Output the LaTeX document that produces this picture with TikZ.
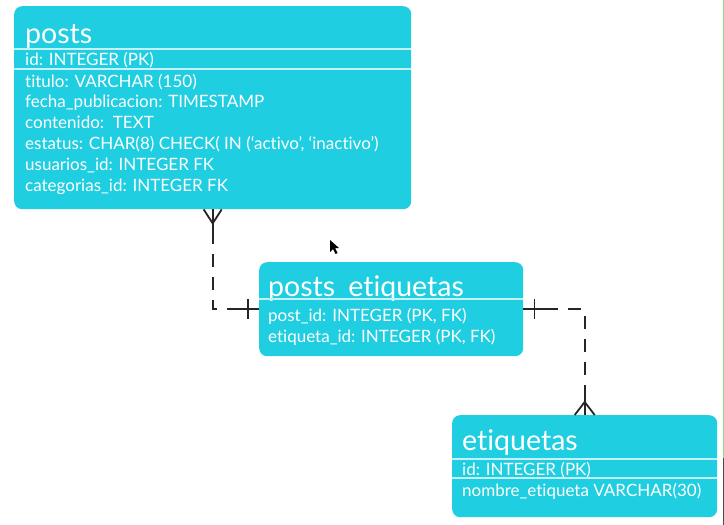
\documentclass[tikz,border=0pt]{standalone}
\usepackage{fontspec}
\setmainfont[Ligatures=NoCommon]{Lato}
\usetikzlibrary{calc}
\definecolor{tblfill}{RGB}{31,206,224}
\definecolor{sepcol}{RGB}{196,242,247}
\definecolor{edgegreen}{RGB}{140,226,120}

\tikzset{
  tablebox/.style={draw=none, fill=tblfill, rounded corners=8pt, inner sep=0pt, anchor=north west},
  ttitle/.style={anchor=base west, inner sep=0pt, text=white, font=\fontsize{28.5}{28.5}\selectfont},
  trow/.style={anchor=base west, inner sep=0pt, text=white, font=\fontsize{17}{17}\selectfont},
  sepline/.style={draw=sepcol, line width=1.3pt},
  relline/.style={draw=black!85, line width=1.8pt, dash pattern=on 13pt off 10pt},
  relmark/.style={draw=black!85, line width=1.8pt},
}

\begin{document}
\begin{tikzpicture}[x=1pt, y=-1pt]
  \useasboundingbox[fill=white] (0,0) rectangle (724,525);

  % ---- posts ----
  \node[tablebox, minimum width=397pt, minimum height=203pt] (posts) at (14,6) {};
  \node[ttitle] (posts-t) at (25,43) {posts};
  \draw[sepline] (posts.west |- 0,49) -- (posts.east |- 0,49);
  \draw[sepline] (posts.west |- 0,69) -- (posts.east |- 0,69);
  \node[trow] (posts-r1) at (25,65)  {id: INTEGER (PK)};
  \node[trow] (posts-r2) at (25,87)  {titulo: VARCHAR (150)};
  \node[trow] (posts-r3) at (25,107) {fecha\_publicacion: TIMESTAMP};
  \node[trow] (posts-r4) at (25,128) {contenido:\ \ TEXT};
  \node[trow] (posts-r5) at (25,149) {estatus: CHAR(8) CHECK( IN (‘activo’, ‘inactivo’)};
  \node[trow] (posts-r6) at (25,170) {usuarios\_id: INTEGER FK};
  \node[trow] (posts-r7) at (25,191) {categorias\_id: INTEGER FK};

  % ---- posts_etiquetas ----
  \node[tablebox, minimum width=264pt, minimum height=94pt] (pe) at (259,262) {};
  \node[ttitle] (pe-t) at (268,296) {posts\_etiquetas};
  \draw[sepline] (pe.west |- 0,299) -- (pe.east |- 0,299);
  \node[trow] (pe-r1) at (268,321) {post\_id: INTEGER (PK, FK)};
  \node[trow] (pe-r2) at (268,342) {etiqueta\_id: INTEGER (PK, FK)};

  % ---- etiquetas ----
  \node[tablebox, minimum width=265pt, minimum height=102pt] (et) at (452,415) {};
  \node[ttitle] (et-t) at (462,450) {etiquetas};
  \draw[sepline] (et.west |- 0,459) -- (et.east |- 0,459);
  \draw[sepline] (et.west |- 0,478) -- (et.east |- 0,478);
  \node[trow] (et-r1) at (462,475) {id: INTEGER (PK)};
  \node[trow] (et-r2) at (462,496) {nombre\_etiqueta VARCHAR(30)};

  % ---- posts (many) to posts_etiquetas (one) ----
  \draw[relline] ($(posts.south)+(0,22)$) |- ($(pe.west)+(-21,0)$);
  \draw[relmark] (posts.south) -- ++(0,22);
  \draw[relmark] ($(posts.south)+(-9,0)$) -- ($(posts.south)+(0,14)$) -- ($(posts.south)+(9,0)$);
  \draw[relmark] (pe.west) -- ++(-21,0);
  \draw[relmark] ($(pe.west)+(-11,-10)$) -- ++(0,20);

  % ---- posts_etiquetas (one) to etiquetas (many) ----
  \draw[relline] ($(pe.east)+(22,0)$) -| ($(et.north)+(0,-20)$);
  \draw[relmark] (pe.east) -- ++(22,0);
  \draw[relmark] ($(pe.east)+(11,-10)$) -- ++(0,20);
  \draw[relmark] (et.north) -- ++(0,-20);
  \draw[relmark] ($(et.north)+(-10,0)$) -- ($(et.north)+(0,-13)$) -- ($(et.north)+(10,0)$);

  % ---- pointer ----
  \fill[black] (330,240) -- (330,252) -- (333,249) -- (335.5,254) -- (337.5,253) -- (335,248) -- (339,248) -- cycle;

  % ---- window edge ----
  \draw[edgegreen, line width=1pt] (723.5,0) -- (723.5,458);
  \draw[black!70, line width=1pt] (723.5,458) -- (723.5,525);
\end{tikzpicture}
\end{document}
